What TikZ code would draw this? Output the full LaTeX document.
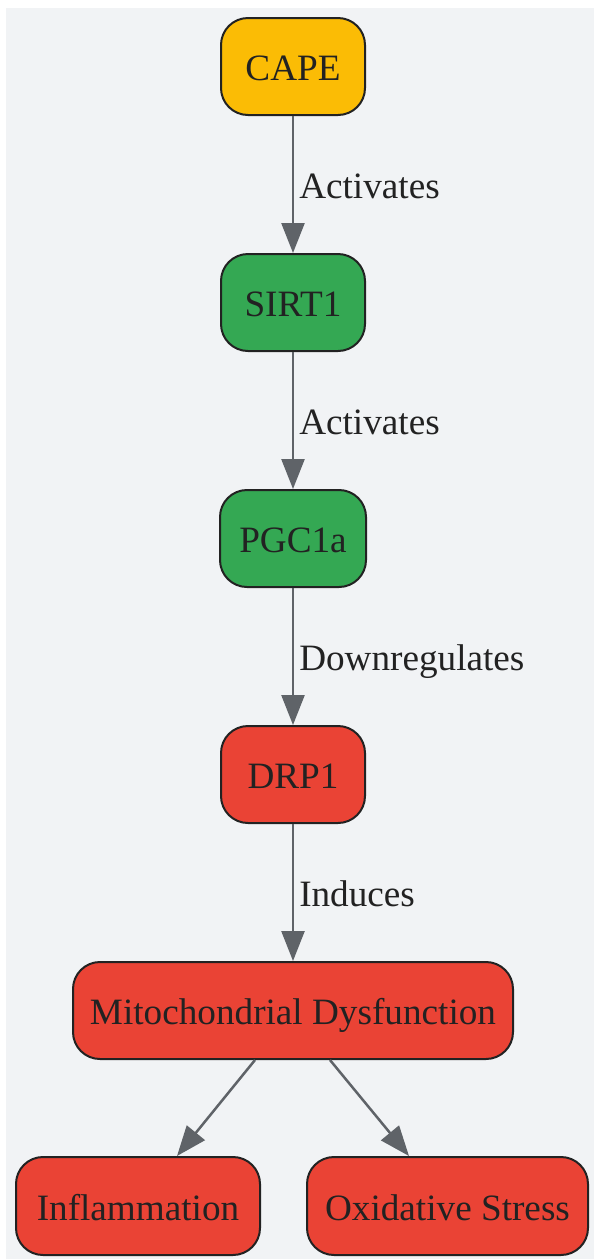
\documentclass[tikz,border=0pt]{standalone}
\usepackage{fontspec}
\setmainfont{Liberation Serif}
\usetikzlibrary{arrows.meta}
\definecolor{bgc}{HTML}{F1F3F5}
\definecolor{yel}{HTML}{FBBC05}
\definecolor{grn}{HTML}{34A853}
\definecolor{rd}{HTML}{EA4335}
\definecolor{edgec}{HTML}{5F6368}
\definecolor{txt}{HTML}{222222}
\tikzset{
  box/.style={draw=txt, line width=2pt, rounded corners=27pt, minimum height=97pt, text=txt, font=\fontsize{37.2}{42}\selectfont, inner sep=0pt, text height=32pt, text depth=4pt},
  conn/.style={draw=edgec, line width=2.5pt, -{Triangle[length=30pt,width=23pt]}},
  lbl/.style={anchor=west, text=txt, font=\fontsize{37.2}{42}\selectfont, inner sep=0pt, xshift=5pt, text height=32pt, text depth=4pt}
}
\begin{document}
\begin{tikzpicture}[x=1pt,y=-1pt]
\useasboundingbox (0,0) rectangle (594,1259);
\fill[bgc] (6,8) rectangle (594,1259);
\node[box, fill=yel, minimum width=144pt] (cape) at (293,66.5) {CAPE};
\node[box, fill=grn, minimum width=144pt] (sirt) at (293,302.5) {SIRT1};
\node[box, fill=grn, minimum width=146pt] (pgc) at (293,538.5) {PGC1a};
\node[box, fill=rd, minimum width=144pt] (drp) at (293,774.5) {DRP1};
\node[box, fill=rd, minimum width=440pt] (mito) at (293,1010.5) {Mitochondrial Dysfunction};
\node[box, fill=rd, minimum width=244pt, minimum height=98pt] (infl) at (138,1206) {Inflammation};
\node[box, fill=rd, minimum width=281pt, minimum height=98pt] (oxs) at (447.5,1206) {Oxidative Stress};
\draw[conn] (cape) -- node[lbl] {Activates} (sirt);
\draw[conn] (sirt) -- node[lbl] {Activates} (pgc);
\draw[conn] (pgc) -- node[lbl] {Downregulates} (drp);
\draw[conn] (drp) -- node[lbl] {Induces} (mito);
\draw[conn] (mito.south -| 255,0) -- (infl.north -| 177,0);
\draw[conn] (mito.south -| 330,0) -- (oxs.north -| 409,0);
\end{tikzpicture}
\end{document}
